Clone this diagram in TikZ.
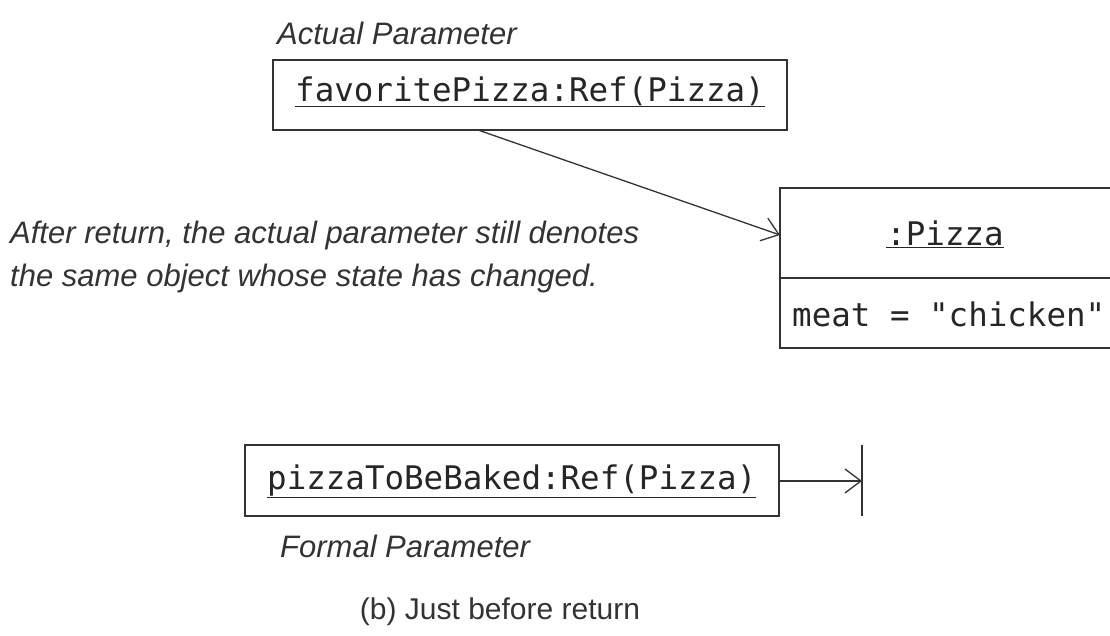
\documentclass[tikz,border=0pt]{standalone}
\usepackage{fontspec}
\setmainfont{Liberation Sans}
\newfontfamily\codefont{DejaVu Sans Mono}
\usetikzlibrary{arrows.meta}
\tikzset{
  box/.style={draw=black!80, line width=1.4pt},
  link/.style={draw=black!80, line width=1.3pt, -{Straight Barb[length=16pt,width=24pt,line width=1.3pt]}},
  code/.style={font=\codefont\fontsize{32.5}{36}\selectfont, text=black!85, inner sep=0pt, anchor=base west},
  note/.style={font=\itshape\fontsize{31}{36}\selectfont, text=black!80, inner sep=0pt, anchor=base west},
  caption/.style={font=\fontsize{30}{34}\selectfont, text=black!80, inner sep=0pt, anchor=base}
}
\newcommand{\ul}[1]{\underline{#1}}
\begin{document}
\begin{tikzpicture}[x=1pt,y=-1pt]
\useasboundingbox (0,0) rectangle (1110,635);
\clip (0,0) rectangle (1110,635);

% actual parameter
\node[note] (actlbl) at (277,44) {Actual Parameter};
\draw[box] (273,60) rectangle (787,130);
\coordinate (actbot) at (478,130);
\node[code] (act) at (295,101) {\ul{favoritePizza:Ref(Pizza)}};

% pizza object
\draw[box] (780,188) rectangle (1130,348);
\draw[box] (780,278) -- (1130,278);
\coordinate (pizzaleft) at (780,235);
\node[code, anchor=base] (pizza) at (945,245) {\ul{:Pizza}};
\node[code] (meat) at (792,326) {meat = "chicken"};

% explanation
\node[note] (expl1) at (10,243) {After return, the actual parameter still denotes};
\node[note] (expl2) at (10,286) {the same object whose state has changed.};

\draw[link] (actbot) -- (pizzaleft);

% formal parameter
\draw[box] (245,445) rectangle (779,516);
\node[code] (form) at (267,489) {\ul{pizzaToBeBaked:Ref(Pizza)}};
\coordinate (formright) at (779,481);
\coordinate (bartip) at (862,481);
\draw[box] (862,445) -- (862,516);
\draw[link] (formright) -- (bartip);
\node[note] (formlbl) at (280,557) {Formal Parameter};

\node[caption] (cap) at (500,619) {(b) Just before return};
\end{tikzpicture}
\end{document}
